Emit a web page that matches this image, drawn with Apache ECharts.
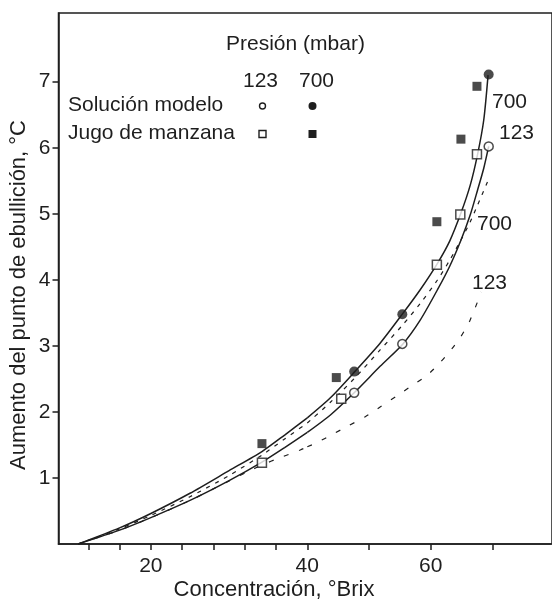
<!DOCTYPE html>
<html><head><meta charset="utf-8">
<script src="https://cdn.jsdelivr.net/npm/echarts@6/dist/echarts.min.js"></script>
<style>html,body{margin:0;padding:0;background:#fff}#c{width:552px;height:601px}</style>
</head><body><div id="c"></div>
<script>
// ---- data (°Brix, °C) ----
const modelo123 = [[47.6,2.29],[55.4,3.03],[69.4,6.02]];
const modelo700 = [[47.6,2.61],[55.4,3.48],[69.4,7.11]];
const jugo123 = [[34.2,1.23],[45.5,2.20],[61.0,4.23],[64.8,4.99],[67.5,5.90]];
const jugo700 = [[34.2,1.52],[44.7,2.52],[61.0,4.88],[64.9,6.13],[67.5,6.93]];

const curveSolid700 = [[10.7,0],[16.0,0.244],[20,0.462],[25,0.768],[30,1.111],[34.2,1.40],[37.1,1.65],[40,1.91],[43.7,2.21],[47.7,2.61],[51.8,3.04],[55.4,3.48],[58.3,3.85],[61.1,4.25],[63.1,4.59],[64.9,5.01],[66.4,5.43],[67.6,5.90],[68.6,6.42],[69.3,7.10]];
const curveSolid123 = [[10.7,0],[16.0,0.21],[20,0.40],[25,0.66],[30,0.96],[34.2,1.24],[37.1,1.46],[40,1.69],[43.7,1.95],[47.6,2.29],[51.8,2.69],[55.5,3.03],[58.3,3.39],[61.1,3.85],[63.1,4.21],[64.9,4.60],[66.4,4.98],[67.6,5.36],[68.6,5.69],[69.4,6.02]];
const curveDash700 = [[10.7,0],[16.0,0.229],[20,0.432],[25,0.716],[30,1.037],[34.2,1.347],[37.1,1.590],[40,1.832],[43.7,2.142],[47.7,2.514],[51.8,2.938],[55.3,3.30],[58.3,3.64],[61.1,3.997],[63.1,4.30],[64.9,4.603],[66.4,4.875],[67.6,5.133],[69.2,5.482]];
const curveDash123 = [[10.7,0],[16.0,0.210],[20,0.398],[25,0.660],[30,0.954],[32.7,1.113],[34.2,1.196],[36.5,1.307],[39.1,1.423],[40,1.472],[41.5,1.533],[44.2,1.666],[46.6,1.787],[49.4,1.927],[51.8,2.074],[54.5,2.241],[56.8,2.387],[59.4,2.554],[61.5,2.745],[63.4,2.953],[64.8,3.127],[66.4,3.392],[68.2,3.816]];

const xTicksLeft = [12,16,20,24,28,32,36];
const xTicksRight = [40,50,60,70];
const xLabelsLeft = [20];
const xLabelsRight = [40,60];
const yTicks = [1,2,3,4,5,6,7];

// ---- chart ----
const INK = '#1e1e1e';
const FONT = "'Liberation Sans', Arial, sans-serif";
const BREAK = 40;
const chart = echarts.init(document.getElementById('c'), null, {renderer:'canvas'});

function part(arr, g){ return arr.filter(p => g === 0 ? p[0] <= BREAK : p[0] >= BREAK); }
function lineSeries(name, data, dash, width){
  return [0,1].map(g => ({
    type:'line', name, xAxisIndex:g, yAxisIndex:g, data: part(data,g),
    symbol:'none', showSymbol:false, smooth:0.25,
    lineStyle:{color:INK, width:width, type: dash || 'solid'},
    silent:true, animation:false, z:2
  }));
}
function scatterSeries(name, data, symbol, filled, size){
  return [0,1].map(g => ({
    type:'scatter', name, xAxisIndex:g, yAxisIndex:g,
    data: data.filter(p => g === 0 ? p[0] < BREAK : p[0] >= BREAK),
    symbol, symbolSize:size,
    itemStyle: filled ? {color:INK} : {color:'#fff', borderColor:INK, borderWidth:1.5},
    z:4, animation:false
  }));
}

const axisLbl = {fontSize:21, color:INK, fontFamily:FONT};
const plotTop = 13, plotH = 531;

function txt(text, x, y, size, align){
  return {type:'text', style:{text, x, y, font: size + 'px ' + FONT, fill:INK, textAlign: align || 'left', textVerticalAlign:'middle'}, z:10};
}

const option = {
  backgroundColor:'#fff',
  animation:false,
  grid:[
    {left:58.5, top:plotTop, width:248.8, height:plotH},
    {left:307.3, top:plotTop, width:243.7, height:plotH},
    {left:58.5, top:plotTop, width:494, height:plotH, show:true, borderColor:INK, borderWidth:1.5, backgroundColor:'transparent', z:1}
  ],
  xAxis:[
    {type:'value', gridIndex:0, min:8.19, max:40,
     axisLine:{show:true, lineStyle:{color:INK, width:1.5}},
     axisTick:{show:true, customValues:xTicksLeft, length:6, lineStyle:{color:INK, width:1.5}},
     axisLabel:Object.assign({customValues:xLabelsLeft, margin:12}, axisLbl),
     splitLine:{show:false}},
    {type:'value', gridIndex:1, min:40, max:79.5,
     axisLine:{show:true, lineStyle:{color:INK, width:1.5}},
     axisTick:{show:true, customValues:xTicksRight, length:6, lineStyle:{color:INK, width:1.5}},
     axisLabel:Object.assign({customValues:xLabelsRight, margin:12}, axisLbl),
     splitLine:{show:false}},
    {type:'value', gridIndex:2, show:false, min:0, max:1}
  ],
  yAxis:[
    {type:'value', gridIndex:0, min:0, max:8.04,
     axisLine:{show:true, lineStyle:{color:INK, width:1.5}},
     axisTick:{show:true, customValues:yTicks, length:6, lineStyle:{color:INK, width:1.5}},
     axisLabel:Object.assign({customValues:yTicks, margin:8}, axisLbl),
     splitLine:{show:false}},
    {type:'value', gridIndex:1, min:0, max:8.04, show:false, splitLine:{show:false}},
    {type:'value', gridIndex:2, show:false, min:0, max:1}
  ],
  series:[].concat(
    lineSeries('700 modelo', curveSolid700, null, 1.5),
    lineSeries('123 modelo', curveSolid123, null, 1.5),
    lineSeries('700 jugo', curveDash700, [4,6], 1.2),
    lineSeries('123 jugo', curveDash123, [5,11], 1.2),
    scatterSeries('Solución modelo 123', modelo123, 'circle', false, 9),
    scatterSeries('Solución modelo 700', modelo700, 'circle', true, 10),
    scatterSeries('Jugo de manzana 123', jugo123, 'rect', false, 9),
    scatterSeries('Jugo de manzana 700', jugo700, 'rect', true, 9)
  ),
  graphic:[
    txt('Presión (mbar)', 226, 44, 21),
    txt('123', 243, 81, 21),
    txt('700', 299, 81, 21),
    txt('Solución modelo', 68, 105, 21),
    txt('Jugo de manzana', 68, 133, 21),
    {type:'circle', shape:{cx:262.5, cy:106, r:3}, style:{fill:'#fff', stroke:INK, lineWidth:1.4}, z:10},
    {type:'circle', shape:{cx:312.5, cy:106, r:4}, style:{fill:INK}, z:10},
    {type:'rect', shape:{x:259, y:130.5, width:7, height:7}, style:{fill:'#fff', stroke:INK, lineWidth:1.4}, z:10},
    {type:'rect', shape:{x:308.5, y:130, width:8, height:8}, style:{fill:INK}, z:10},
    txt('700', 492, 102, 21),
    txt('123', 499, 133, 21),
    txt('700', 477, 224, 21),
    txt('123', 472, 283, 21),
    txt('Concentración, °Brix', 274, 590, 22, 'center'),
    {type:'text', x:19, y:295, rotation:Math.PI/2,
     style:{text:'Aumento del punto de ebullición, °C', x:0, y:0, font:'22px ' + FONT, fill:INK, textAlign:'center', textVerticalAlign:'middle'}, z:10}
  ]
};
chart.setOption(option);
</script>
</body></html>
